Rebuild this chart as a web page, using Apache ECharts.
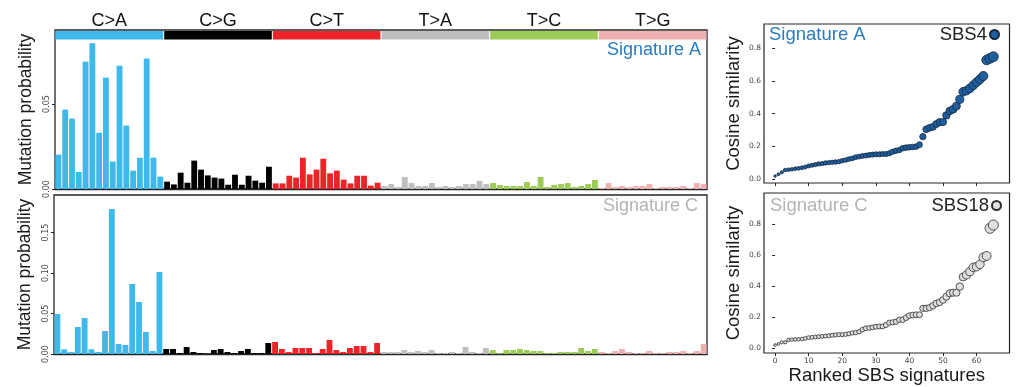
<!DOCTYPE html>
<html><head><meta charset="utf-8">
<script src="https://cdn.jsdelivr.net/npm/echarts@6/dist/echarts.min.js"></script>
<style>html,body{margin:0;padding:0;background:#fff}#c{width:1022px;height:387px}</style>
</head><body><div id="c"></div>
<script>
// ---- data ----
const mutationTypes = ['C>A', 'C>G', 'C>T', 'T>A', 'T>C', 'T>G'];
const typeColors = ['#3fb9ec', '#000000', '#ec2327', '#bebebe', '#9dcc56', '#eeb1b1'];
const bases = ['A', 'C', 'G', 'T'];

const signatureA = [
  0.0202, 0.0467, 0.0414, 0.0100, 0.0749, 0.0857, 0.0331, 0.0655, 0.0161, 0.0725, 0.0373, 0.0108, 0.0184, 0.0767, 0.0184, 0.0073,
  0.0043, 0.0027, 0.0096, 0.0037, 0.0167, 0.0114, 0.0080, 0.0067, 0.0061, 0.0025, 0.0084, 0.0025, 0.0078, 0.0049, 0.0037, 0.0131,
  0.0033, 0.0033, 0.0078, 0.0067, 0.0184, 0.0086, 0.0114, 0.0178, 0.0092, 0.0108, 0.0055, 0.0033, 0.0078, 0.0078, 0.0020, 0.0037,
  0.0018, 0.0029, 0.0012, 0.0071, 0.0035, 0.0018, 0.0018, 0.0035, 0.0012, 0.0018, 0.0012, 0.0018, 0.0029, 0.0029, 0.0047, 0.0029,
  0.0035, 0.0024, 0.0018, 0.0018, 0.0018, 0.0041, 0.0018, 0.0071, 0.0012, 0.0024, 0.0029, 0.0035, 0.0012, 0.0018, 0.0029, 0.0053,
  0.0006, 0.0035, 0.0012, 0.0018, 0.0012, 0.0018, 0.0018, 0.0029, 0.0006, 0.0012, 0.0012, 0.0012, 0.0018, 0.0006, 0.0035, 0.0029
];
const signatureC = [
  0.0494, 0.0058, 0.0025, 0.0333, 0.0444, 0.0058, 0.0025, 0.0284, 0.1790, 0.0123, 0.0111, 0.0864, 0.0642, 0.0272, 0.0037, 0.1012,
  0.0062, 0.0062, 0.0012, 0.0086, 0.0025, 0.0012, 0.0004, 0.0049, 0.0062, 0.0025, 0.0012, 0.0037, 0.0062, 0.0012, 0.0012, 0.0136,
  0.0148, 0.0062, 0.0025, 0.0074, 0.0074, 0.0074, 0.0012, 0.0062, 0.0173, 0.0049, 0.0025, 0.0074, 0.0099, 0.0099, 0.0025, 0.0136,
  0.0025, 0.0025, 0.0025, 0.0049, 0.0025, 0.0037, 0.0025, 0.0049, 0.0012, 0.0012, 0.0025, 0.0012, 0.0086, 0.0025, 0.0012, 0.0074,
  0.0049, 0.0012, 0.0049, 0.0049, 0.0062, 0.0049, 0.0037, 0.0037, 0.0012, 0.0012, 0.0025, 0.0025, 0.0025, 0.0074, 0.0037, 0.0062,
  0.0025, 0.0012, 0.0037, 0.0062, 0.0025, 0.0012, 0.0012, 0.0037, 0.0012, 0.0012, 0.0025, 0.0025, 0.0037, 0.0012, 0.0037, 0.0123
];

const rankedA = [
  0.018, 0.029, 0.041, 0.055, 0.057, 0.059, 0.063, 0.065, 0.069, 0.073,
  0.080, 0.084, 0.088, 0.092, 0.094, 0.098, 0.100, 0.102, 0.104, 0.106,
  0.112, 0.116, 0.122, 0.126, 0.133, 0.137, 0.141, 0.143, 0.147, 0.149,
  0.151, 0.151, 0.153, 0.153, 0.157, 0.167, 0.173, 0.177, 0.188, 0.192,
  0.194, 0.196, 0.198, 0.210, 0.259, 0.304, 0.313, 0.319, 0.336, 0.348,
  0.348, 0.389, 0.416, 0.426, 0.446, 0.487, 0.534, 0.540, 0.554, 0.573,
  0.592, 0.610, 0.630, 0.728, 0.738, 0.748
];
const rankedC = [
  0.021, 0.028, 0.039, 0.039, 0.054, 0.056, 0.058, 0.058, 0.060, 0.064,
  0.069, 0.071, 0.073, 0.075, 0.077, 0.079, 0.081, 0.084, 0.086, 0.088,
  0.088, 0.090, 0.094, 0.099, 0.101, 0.107, 0.120, 0.129, 0.131, 0.135,
  0.139, 0.141, 0.141, 0.150, 0.165, 0.167, 0.171, 0.184, 0.184, 0.197,
  0.210, 0.214, 0.216, 0.216, 0.257, 0.257, 0.262, 0.274, 0.289, 0.296,
  0.311, 0.332, 0.354, 0.358, 0.358, 0.397, 0.459, 0.472, 0.493, 0.521,
  0.525, 0.540, 0.585, 0.594, 0.772, 0.793
];

const barTicksA = [0, 0.05];
const barTicksC = [0, 0.05, 0.10, 0.15];
const simTicks = [0, 0.2, 0.4, 0.6, 0.8];
const rankTicks = [0, 10, 20, 30, 40, 50, 60];

// ---- build ----
const contexts = [];
mutationTypes.forEach(t => bases.forEach(a => bases.forEach(b => contexts.push(a + '[' + t + ']' + b))));

const bigFont = 'Liberation Sans, Arial, sans-serif';
const smallFont = 'DejaVu Sans, sans-serif';
const frame = '#262626';

function barColor(p) { return typeColors[Math.floor(p.dataIndex / 16)]; }

function barY(max, ticks) {
  return {
    type: 'value', min: 0, max: max,
    splitLine: { show: false },
    axisLine: { show: false },
    axisTick: { show: true, length: 3, customValues: ticks, lineStyle: { color: frame } },
    axisLabel: { customValues: ticks, rotate: 90, fontSize: 8, color: '#444', fontFamily: smallFont, margin: 4,
      formatter: v => v.toFixed(2) },
    name: 'Mutation probability', nameLocation: 'middle', nameRotate: 90, nameGap: 20,
    nameTextStyle: { fontSize: 17.5, color: '#1a1a1a', fontFamily: bigFont }
  };
}
function barX(idx) {
  return { type: 'category', gridIndex: idx, data: contexts, axisLabel: { show: false }, axisTick: { show: false },
    axisLine: { show: true, onZero: false, lineStyle: { color: frame, width: 1.3 } } };
}
function simY(min, max, idx) {
  return {
    type: 'value', gridIndex: idx, min: min, max: max, splitLine: { show: false },
    axisLine: { show: false },
    axisTick: { show: true, length: 3, customValues: simTicks, lineStyle: { color: frame } },
    axisLabel: { customValues: simTicks, fontSize: 7.5, color: '#444', fontFamily: smallFont, margin: 3,
      formatter: v => v.toFixed(1) },
    name: 'Cosine similarity', nameLocation: 'middle', nameRotate: 90, nameGap: 21,
    nameTextStyle: { fontSize: 18.5, color: '#1a1a1a', fontFamily: bigFont }
  };
}
function simX(idx, showLabels) {
  const ax = {
    type: 'value', gridIndex: idx, min: -3.3, max: 69.8, splitLine: { show: false },
    axisLine: { show: false, onZero: false },
    axisTick: { show: true, length: 3, customValues: rankTicks, lineStyle: { color: frame } },
    axisLabel: { show: showLabels, customValues: rankTicks, fontSize: 7.5, color: '#444', fontFamily: smallFont, margin: 4 }
  };
  if (showLabels) {
    ax.name = 'Ranked SBS signatures'; ax.nameLocation = 'middle'; ax.nameGap = 13;
    ax.nameTextStyle = { fontSize: 18.5, color: '#1a1a1a', fontFamily: bigFont, verticalAlign: 'top' };
  }
  return ax;
}
const symSize = d => 1.2 + 10 * Math.sqrt(d[1]);

const option = {
  animation: false,
  backgroundColor: '#fff',
  grid: [
    { left: 55, width: 652, top: 31, height: 8.5, show: false },                      // strip
    { left: 55, width: 652, top: 30, height: 159, show: true, borderColor: frame, borderWidth: 1.3 },   // bars A
    { left: 54, width: 653, top: 195, height: 159, show: true, borderColor: frame, borderWidth: 1.3 },  // bars C
    { left: 764, width: 245.5, top: 24, height: 159, show: true, borderColor: frame, borderWidth: 1.2 }, // sim A
    { left: 764, width: 245.5, top: 193, height: 160, show: true, borderColor: frame, borderWidth: 1.2 } // sim C
  ],
  xAxis: [
    { type: 'category', gridIndex: 0, data: mutationTypes, position: 'top',
      axisLine: { show: false }, axisTick: { show: false },
      axisLabel: { fontSize: 18, color: '#111', fontFamily: bigFont, margin: 1 } },
    barX(1), barX(2),
    simX(3, false), simX(4, true)
  ],
  yAxis: [
    { type: 'value', gridIndex: 0, min: 0, max: 1, show: false },
    Object.assign(barY(159 / 1700, barTicksA), { gridIndex: 1 }),
    Object.assign(barY(159 / 810, barTicksC), { gridIndex: 2 }),
    simY(-0.0245, 0.948, 3),
    simY(-0.030, 0.999, 4)
  ],
  title: [
    { text: 'Signature A', right: 321, top: 41, padding: 0, textStyle: { fontSize: 18, fontWeight: 'normal', color: '#2a7bbf', fontFamily: bigFont } },
    { text: 'Signature C', right: 324, top: 197, padding: 0, textStyle: { fontSize: 18, fontWeight: 'normal', color: '#b3b3b3', fontFamily: bigFont } },
    { text: 'Signature A', left: 769, top: 25, padding: 0, textStyle: { fontSize: 18.5, fontWeight: 'normal', color: '#2a7bbf', fontFamily: bigFont } },
    { text: 'Signature C', left: 770, top: 196, padding: 0, textStyle: { fontSize: 18.5, fontWeight: 'normal', color: '#b3b3b3', fontFamily: bigFont } }
  ],
  legend: [
    { data: ['SBS4'], right: 22, top: 25, align: 'right', icon: 'circle', itemWidth: 9, itemHeight: 9, padding: 0,
      selectedMode: false, textStyle: { fontSize: 18.5, color: '#222', fontFamily: bigFont, padding: [0, -2, 0, 0] } },
    { data: ['SBS18'], right: 20, top: 196, align: 'right', icon: 'circle', itemWidth: 9, itemHeight: 9, padding: 0,
      selectedMode: false, textStyle: { fontSize: 18.5, color: '#222', fontFamily: bigFont, padding: [0, -2, 0, 0] } }
  ],
  series: [
    { type: 'bar', xAxisIndex: 0, yAxisIndex: 0, barCategoryGap: '1%', silent: true,
      data: mutationTypes.map((t, i) => ({ value: 1, itemStyle: { color: typeColors[i] } })) },
    { type: 'bar', xAxisIndex: 1, yAxisIndex: 1, data: signatureA, barCategoryGap: '14%', itemStyle: { color: barColor } },
    { type: 'bar', xAxisIndex: 2, yAxisIndex: 2, data: signatureC, barCategoryGap: '14%', itemStyle: { color: barColor } },
    { type: 'scatter', name: 'SBS4', xAxisIndex: 3, yAxisIndex: 3, data: rankedA.map((v, i) => [i, v]),
      symbolSize: symSize, itemStyle: { color: '#1f5e9e', borderColor: '#14283d', borderWidth: 0.8, opacity: 1 } },
    { type: 'scatter', name: 'SBS18', xAxisIndex: 4, yAxisIndex: 4, data: rankedC.map((v, i) => [i, v]),
      symbolSize: symSize, itemStyle: { color: '#dedede', borderColor: '#2e2e2e', borderWidth: 0.8, opacity: 1 } }
  ]
};
const chart = echarts.init(document.getElementById('c'), null, { renderer: 'canvas' });
chart.setOption(option);
</script>
</body></html>
